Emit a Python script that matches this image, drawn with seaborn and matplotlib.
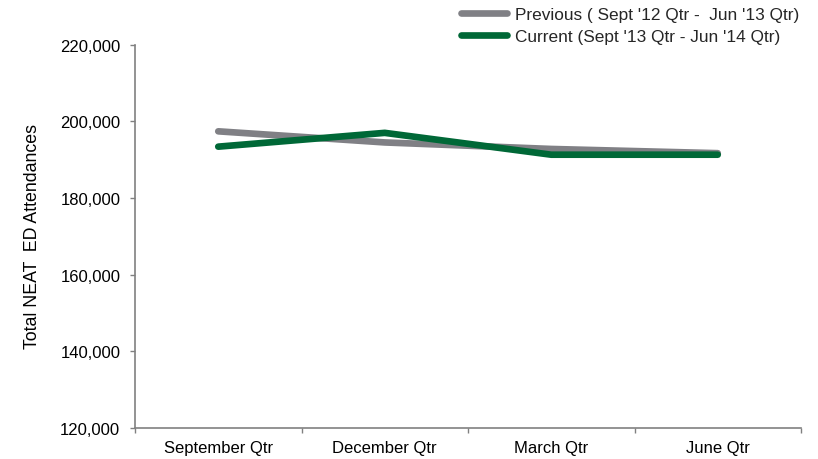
import matplotlib
matplotlib.use("Agg")
import matplotlib.pyplot as plt
import matplotlib.ticker as mticker
from matplotlib.lines import Line2D
import seaborn as sns
import pandas as pd

quarters = ["September Qtr", "December Qtr", "March Qtr", "June Qtr"]
previous = [197400, 194500, 192800, 191700]
current = [193400, 197000, 191300, 191300]
series_names = ["Previous ( Sept '12 Qtr -  Jun '13 Qtr)",
                "Current (Sept '13 Qtr - Jun '14 Qtr)"]
y_ticks = [120000, 140000, 160000, 180000, 200000, 220000]

colors = {series_names[0]: "#808085", series_names[1]: "#006837"}

df = pd.DataFrame({
    "quarter": quarters * 2,
    "value": previous + current,
    "series": [series_names[0]] * len(quarters) + [series_names[1]] * len(quarters),
})

sns.set_theme(style="white")
plt.rcParams["font.family"] = ["Liberation Sans", "DejaVu Sans"]

fig = plt.figure(figsize=(8.18, 4.6), dpi=100)
ax = fig.add_axes([135 / 818, 1 - 429 / 460, 666 / 818, (429 - 45.7) / 460])

sns.lineplot(data=df, x="quarter", y="value", hue="series", palette=colors,
             linewidth=4.8, sort=False, ax=ax, legend=False,
             solid_capstyle="round")

ax.set_xlim(-0.5, len(quarters) - 0.5)
ax.set_ylim(y_ticks[0], y_ticks[-1])
ax.set_yticks(y_ticks)
ax.yaxis.set_major_formatter(mticker.FuncFormatter(lambda v, p: f"{int(v):,}"))

ax.set_xticks(range(len(quarters)))
ax.set_xticklabels(quarters)
ax.set_xticks([i - 0.5 for i in range(len(quarters) + 1)], minor=True)

spine_col = "#808080"
for s in ["top", "right"]:
    ax.spines[s].set_visible(False)
for s in ["left", "bottom"]:
    ax.spines[s].set_color(spine_col)
    ax.spines[s].set_linewidth(1.2)

ax.tick_params(axis="y", which="major", direction="out", length=3.6, width=1,
               color=spine_col, pad=7, labelsize=12, labelcolor="#000000", left=True)
ax.tick_params(axis="x", which="major", length=0, pad=9, labelsize=12,
               labelcolor="#000000", bottom=True)
ax.tick_params(axis="x", which="minor", direction="out", length=3.6, width=1,
               color=spine_col, bottom=True)

ax.set_xlabel("")
ax.set_ylabel("Total NEAT  ED Attendances", fontsize=12.8, color="#000000")
ax.yaxis.set_label_coords((41 - 135) / 666, 0.503)

handles = [Line2D([], [], color=colors[n], linewidth=4.8, solid_capstyle="round")
           for n in series_names]
fig.legend(handles, series_names, loc="upper left",
           bbox_to_anchor=(461 / 818, 1 - 8 / 460), frameon=False, fontsize=12.4,
           handlelength=2.7, handletextpad=0.45, labelspacing=0.42,
           borderaxespad=0.0, borderpad=0.0)

fig.savefig("out.png", dpi=100)
